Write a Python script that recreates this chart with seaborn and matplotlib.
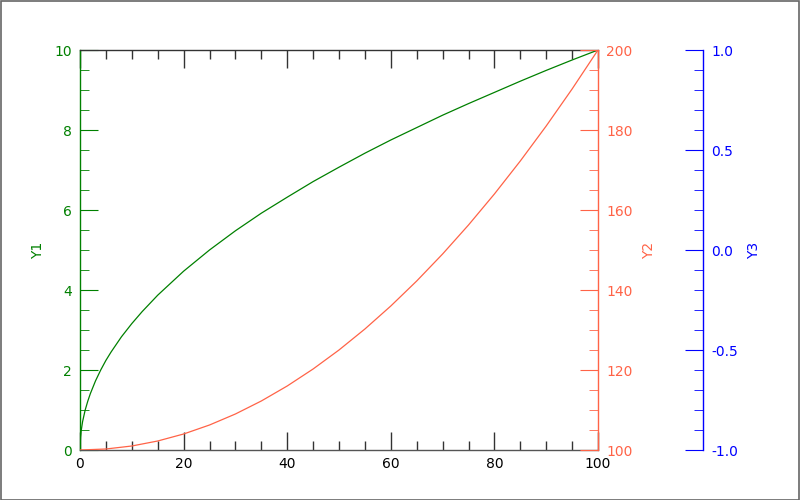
import matplotlib
matplotlib.use("Agg")
import matplotlib.pyplot as plt
import seaborn as sns
from matplotlib.patches import Rectangle
from matplotlib.ticker import MultipleLocator, FormatStrFormatter

sns.set_style("ticks")
plt.rcParams['font.family'] = ['DejaVu Sans']
plt.rcParams['axes.unicode_minus'] = False

# values
x1 = [0, 0.1, 0.25, 0.5, 1, 1.5, 2, 3, 4, 5, 6, 8, 10, 12, 15, 20, 25, 30, 35, 40,
      45, 50, 55, 60, 65, 70, 75, 80, 85, 90, 95, 100]
y1 = [0, 0.32, 0.5, 0.71, 1.0, 1.22, 1.41, 1.73, 2.0, 2.24, 2.45, 2.83, 3.16, 3.46,
      3.87, 4.47, 5.0, 5.48, 5.92, 6.32, 6.71, 7.07, 7.42, 7.75, 8.06, 8.37, 8.66,
      8.94, 9.22, 9.49, 9.75, 10.0]
x2 = [0, 5, 10, 15, 20, 25, 30, 35, 40, 45, 50, 55, 60, 65, 70, 75, 80, 85, 90, 95, 100]
y2 = [100, 100.25, 101, 102.25, 104, 106.25, 109, 112.25, 116, 120.25, 125, 130.25,
      136, 142.25, 149, 156.25, 164, 172.25, 181, 190.25, 200]

green = "#008000"
red = "tomato"
blue = "#0000ff"
fs = 10

fig = plt.figure(figsize=(8, 5), dpi=100)
ax = fig.add_axes([0.1, 0.1, 0.6475, 0.8])
ax2 = ax.twinx()
ax3 = ax.twinx()

sns.lineplot(x=x1, y=y1, ax=ax, color=green, linewidth=0.9, sort=False, estimator=None)
sns.lineplot(x=x2, y=y2, ax=ax2, color=red, linewidth=0.9, sort=False, estimator=None)

ax.set_xlim(0, 100)
ax.set_ylim(0, 10)
ax2.set_ylim(100, 200)
ax3.set_ylim(-1, 1)

# x axis
ax.xaxis.set_major_locator(MultipleLocator(20))
ax.xaxis.set_minor_locator(MultipleLocator(5))
ax.tick_params(axis='x', which='both', direction='in', top=True, bottom=True,
               colors='#333333', labelcolor='black', labelsize=fs, pad=5)
ax.tick_params(axis='x', which='major', length=13, width=1)
ax.tick_params(axis='x', which='minor', length=6.5, width=1)

# Y1
ax.yaxis.set_major_locator(MultipleLocator(2))
ax.yaxis.set_minor_locator(MultipleLocator(0.5))
ax.tick_params(axis='y', which='both', direction='in', colors=green, labelsize=fs, pad=6)
ax.tick_params(axis='y', which='major', length=13)
ax.tick_params(axis='y', which='minor', length=6.5)
ax.set_ylabel("Y1", color=green, fontsize=fs, labelpad=6.5)

# Y2
ax2.yaxis.set_major_locator(MultipleLocator(20))
ax2.yaxis.set_minor_locator(MultipleLocator(5))
ax2.tick_params(axis='y', which='both', direction='in', colors=red, labelsize=fs, pad=6)
ax2.tick_params(axis='y', which='major', length=13)
ax2.tick_params(axis='y', which='minor', length=6.5)
ax2.set_ylabel("Y2", color=red, fontsize=fs, labelpad=7)

# Y3
ax3.spines['right'].set_position(('axes', 1.2027))
ax3.yaxis.set_major_locator(MultipleLocator(0.5))
ax3.yaxis.set_minor_locator(MultipleLocator(0.1))
ax3.yaxis.set_major_formatter(FormatStrFormatter('%.1f'))
ax3.tick_params(axis='y', which='both', direction='in', colors=blue, labelsize=fs, pad=6)
ax3.tick_params(axis='y', which='major', length=13)
ax3.tick_params(axis='y', which='minor', length=6.5)
ax3.set_ylabel("Y3", color=blue, fontsize=fs, labelpad=6.5)

# spines
for s in ['left', 'right', 'bottom', 'top']:
    ax2.spines[s].set_visible(s == 'right')
    ax3.spines[s].set_visible(s == 'right')
ax.spines['right'].set_visible(False)
ax.spines['left'].set_color(green)
ax.spines['bottom'].set_color('#555555')
ax.spines['top'].set_color('#333333')
ax2.spines['right'].set_color(red)
ax3.spines['right'].set_color(blue)
for a in (ax, ax2, ax3):
    for s in a.spines.values():
        s.set_linewidth(1)
    a.grid(False)

fig.patches.append(Rectangle((0.001, 0.001), 0.998, 0.998, transform=fig.transFigure,
                             fill=False, edgecolor='#666666', linewidth=1.2))

fig.savefig("out.png", dpi=100)
